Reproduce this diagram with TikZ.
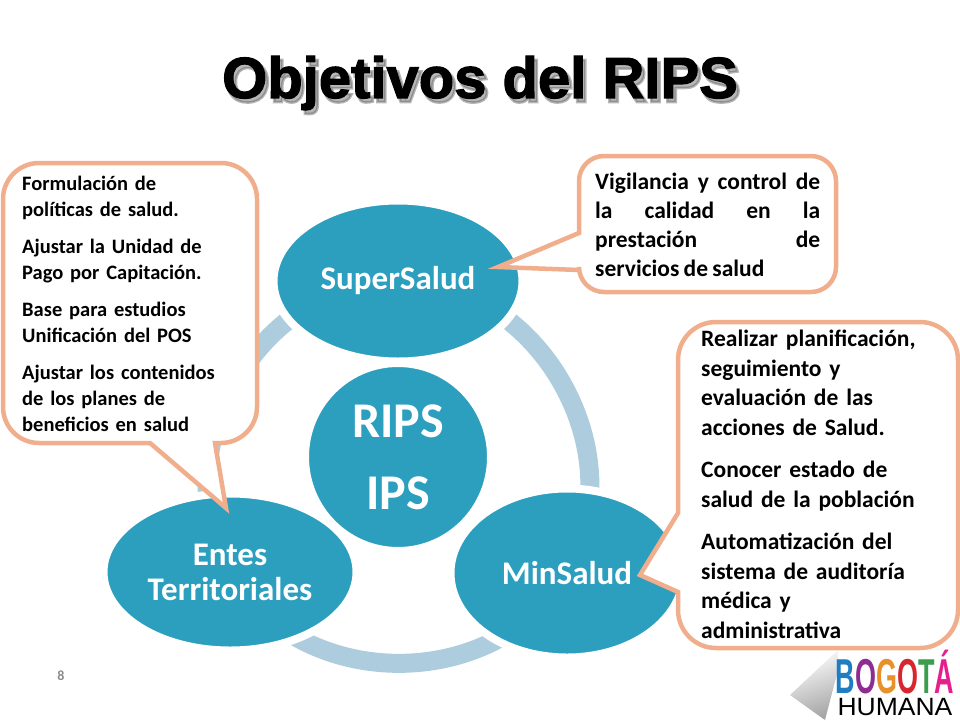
\documentclass[tikz,border=0pt]{standalone}
\usepackage{fontspec}
\usetikzlibrary{shapes,backgrounds}
\setmainfont[WordSpace=0.8]{Carlito Bold}
\newfontfamily\titlefont[FakeBold=2]{Liberation Sans Bold}
\newfontfamily\haloFont[FakeBold=4.5]{Liberation Sans Bold}
\newfontfamily\ovalfont{Carlito Bold}
\newfontfamily\logofont{Liberation Sans Bold}
\newfontfamily\logothin{Liberation Sans}
\definecolor{teal}{HTML}{2C9FBF}
\definecolor{ringblue}{HTML}{ADCDDE}
\definecolor{salmon}{HTML}{F0AE8C}
\definecolor{logoblue}{HTML}{1F7DC1}
\definecolor{logopurple}{HTML}{8E2C92}
\definecolor{logoorange}{HTML}{E8902A}
\definecolor{logored}{HTML}{D8262E}
\definecolor{logogreen}{HTML}{3C9D4E}
\definecolor{logopink}{HTML}{E5208C}

\begin{document}
\begin{tikzpicture}[x=1pt, y=-1pt]
	\tikzstyle{Oval}     = [ellipse, fill=teal, draw=white, line width=8pt, text=white, align=center, inner sep=0pt, font=\ovalfont\fontsize{33}{35}\selectfont]
	\tikzstyle{Ring}     = [ringblue, line width=19pt, bend left=60, looseness=1.06]
	\tikzstyle{Callout}  = [draw=salmon, line width=4.5pt, fill=white, line join=miter]
	\tikzstyle{Note}     = [anchor=north west, inner sep=0pt, align=left, text=black]

	\useasboundingbox (0,0) rectangle (960,720);

	\node (title shadow) at (483,87) [text=black!70, opacity=0.4, font=\haloFont\fontsize{58}{60}\selectfont] {Objetivos del RIPS};
	\node (title) at (480,83) [text=black, font=\titlefont\fontsize{58}{60}\selectfont] {Objetivos del RIPS};

	\node (RIPS) at (398,457) [Oval, minimum width=186pt, minimum height=188pt, font=\ovalfont\fontsize{50}{72}\selectfont] {RIPS\\IPS};
	\node (SuperSalud) at (398,281) [Oval, minimum width=249pt, minimum height=161pt] {SuperSalud};
	\node (MinSalud) at (567,573) [Oval, minimum width=233pt, minimum height=169pt] {MinSalud};
	\node (Entes) at (230,572) [Oval, minimum width=253pt, minimum height=157pt] {Entes\\Territoriales};

	\begin{pgfonlayer}{background}
		\draw [Ring] (SuperSalud.center) to (MinSalud.center);
		\draw [Ring] (MinSalud.center) to (Entes.center);
		\draw [Ring] (Entes.center) to (SuperSalud.center);
		\shade [left color=white, right color=black!35, shading angle=20] (838,650) -- (790,695) -- (825,720) -- (838,670) -- cycle;
	\end{pgfonlayer}

	% callouts
	\draw [Callout] (226,508) -- (150,443) [rounded corners=36] -- (3,443) -- (3,163) -- (257,163) -- (257,443) [sharp corners] -- (215,443) -- cycle;
	\draw [Callout] (498,267) -- (579,233) [rounded corners=25] -- (579,156) -- (836,156) -- (836,292) -- (579,292) [sharp corners] -- (579,270) -- cycle;
	\draw [Callout] (640,575) -- (678,513) [rounded corners=38] -- (678,322) -- (958,322) -- (958,648) -- (678,648) [sharp corners] -- (678,592) -- cycle;

	\node (formulacion) at (22,176) [Note, text width=210pt, font=\fontsize{20.5}{26}\selectfont] {Formulación de\\políticas de salud.\\[11pt]Ajustar la Unidad de\\Pago por Capitación.\\[11pt]Base para estudios\\Unificación del POS\\[11pt]Ajustar los contenidos\\de los planes de\\beneficios en salud};
	\node (vigilancia) at (595,173) [Note, text width=225pt, align=justify, font=\fontsize{23.5}{29}\selectfont] {Vigilancia y control de\linebreak la calidad en la\linebreak prestación de\linebreak servicios de salud};
	\node (realizar) at (701,330) [Note, text width=240pt, font=\fontsize{23.5}{29.5}\selectfont] {Realizar planificación,\\seguimiento y\\evaluación de las\\acciones de Salud.\\[13pt]Conocer estado de\\salud de la población\\[13pt]Automatización del\\sistema de auditoría\\médica y\\administrativa};

	\node (page) at (61,676) [text=black!45, font=\fontsize{14}{14}\selectfont] {8};

	% logo
	\node (bogota) at (895,693) [anchor=base, inner sep=0pt, font=\logofont\fontsize{49}{49}\selectfont] {\scalebox{.55}[1]{\textcolor{logoblue}{B}\textcolor{logopurple}{O}\textcolor{logoorange}{G}\textcolor{logored}{O}\textcolor{logogreen}{T}\textcolor{logopink}{Á}}};
	\node (humana) at (895,715) [anchor=base, inner sep=0pt, font=\logothin\fontsize{25}{25}\selectfont] {\scalebox{1.06}[1]{HUMANA}};
\end{tikzpicture}
\end{document}
